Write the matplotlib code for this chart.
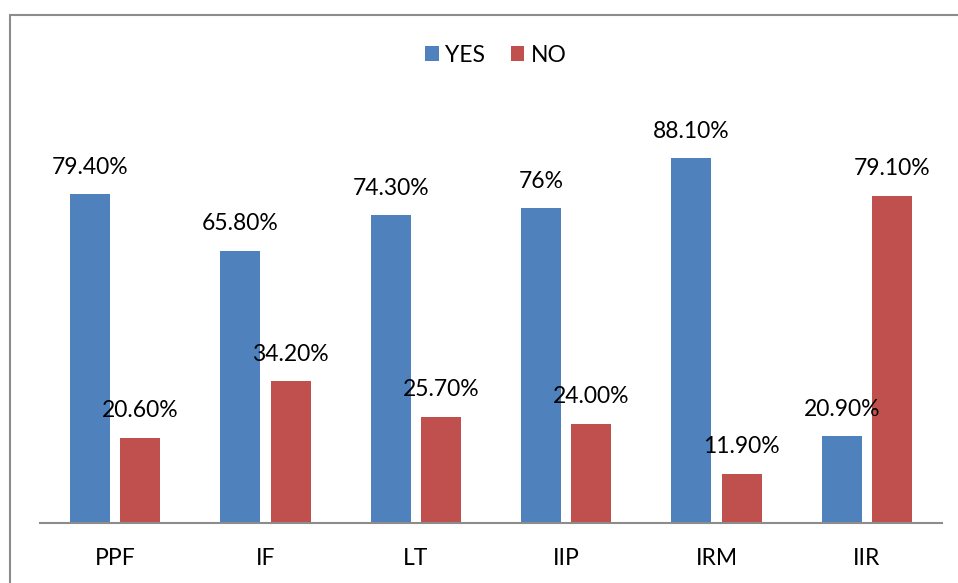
import matplotlib.pyplot as plt
from matplotlib.patches import Rectangle
import numpy as np

# Data
categories = ["PPF", "IF", "LT", "IIP", "IRM", "IIR"]
yes_vals = [79.4, 65.8, 74.3, 76.0, 88.1, 20.9]
no_vals = [20.6, 34.2, 25.7, 24.0, 11.9, 79.1]
yes_labels = ["79.40%", "65.80%", "74.30%", "76%", "88.10%", "20.90%"]
no_labels = ["20.60%", "34.20%", "25.70%", "24.00%", "11.90%", "79.10%"]

blue = "#4F81BD"
red = "#C0504D"
plt.rcParams["font.family"] = ["Lato", "DejaVu Sans"]

W, H = 958, 583
fig = plt.figure(figsize=(W / 100, H / 100), dpi=100)

# outer chart frame (cut off on right and bottom)
fig.patches.append(Rectangle((10 / W, -0.1), 1.2, 1 - 15 / H + 0.1,
                             transform=fig.transFigure, fill=False,
                             edgecolor="#8c8c8c", linewidth=1.5))

ax = fig.add_axes([40 / W, 1 - 523 / H, (942 - 40) / W, (523 - 109) / H])
x = np.arange(len(categories))
bw = 40 / 150
off = 25 / 150

b1 = ax.bar(x - off, yes_vals, bw, color=blue, label="YES")
b2 = ax.bar(x + off, no_vals, bw, color=red, label="NO")

for bars, labs in ((b1, yes_labels), (b2, no_labels)):
    for bar, lab in zip(bars, labs):
        ax.annotate(lab, (bar.get_x() + bar.get_width() / 2, bar.get_height()),
                    xytext=(0, 19.5), textcoords="offset points",
                    ha="center", va="center", fontsize=16.5, color="black")

ax.set_xlim(-0.5, len(categories) - 0.5)
ax.set_ylim(0, 100)
ax.set_xticks(x)
ax.set_xticklabels(categories, fontsize=16.5)
ax.tick_params(axis="x", length=0, pad=18)
ax.set_yticks([])
for s in ["top", "right", "left"]:
    ax.spines[s].set_visible(False)
ax.spines["bottom"].set_color("#8c8c8c")
ax.spines["bottom"].set_linewidth(1.5)

fig.legend(handles=[b1, b2], labels=["YES", "NO"], loc="center",
           bbox_to_anchor=(496 / W, 1 - 55 / H), ncol=2, frameon=False,
           fontsize=16.5, handlelength=0.6, handleheight=0.6,
           handletextpad=0.3, columnspacing=1.1)

fig.savefig("out.png", dpi=100)
